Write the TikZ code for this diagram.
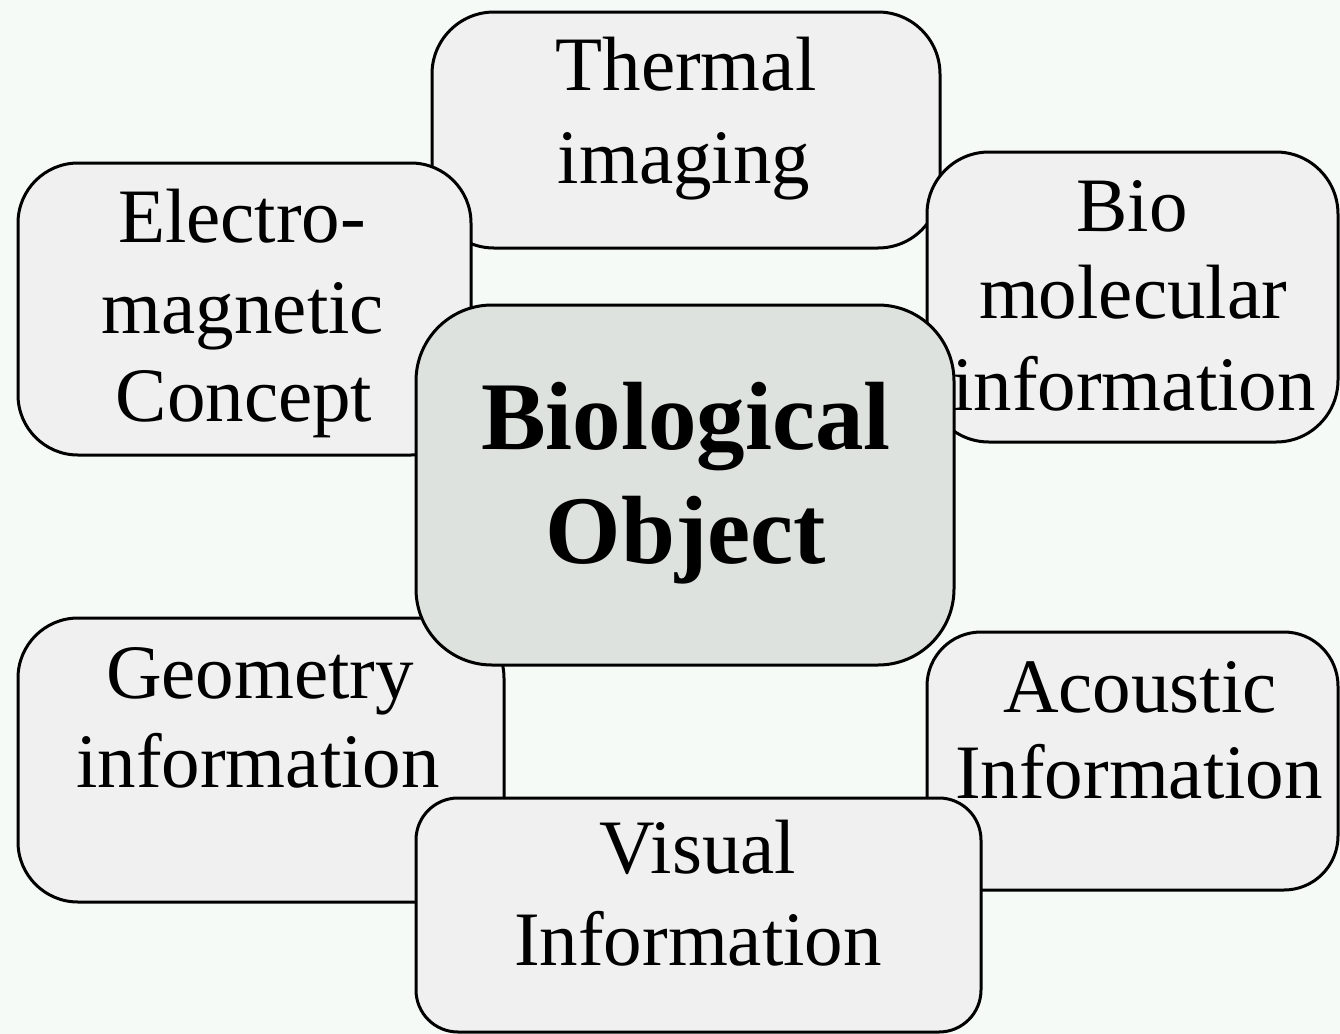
\documentclass[tikz,border=0pt]{standalone}
\usepackage{fontspec}
\setmainfont{Liberation Serif}
\definecolor{bgcol}{HTML}{F5FAF7}
\definecolor{boxfill}{HTML}{F0F0F0}
\definecolor{centerfill}{HTML}{DEE2DF}
\tikzset{
  boxshape/.style={draw=black, line width=1.5pt, fill=boxfill},
  centershape/.style={draw=black, line width=1.5pt, fill=centerfill},
  txt/.style={anchor=base, inner sep=0pt, font=\fontsize{38.5}{46}\selectfont},
  btxt/.style={anchor=base, inner sep=0pt, font=\fontsize{48.5}{57}\selectfont\bfseries}
}
\begin{document}
\begin{tikzpicture}[x=0.5pt,y=-0.5pt]
\useasboundingbox[fill=bgcol] (0,0) rectangle (1340,1034);
% outer boxes (order matters for overlaps)
\draw[boxshape, rounded corners=31pt] (432,12) rectangle (940,248);
\draw[boxshape, rounded corners=30pt] (18,163) rectangle (471,455);
\draw[boxshape, rounded corners=31pt] (927,152) rectangle (1338,442);
\draw[boxshape, rounded corners=30pt] (18,618) rectangle (504,902);
\draw[boxshape, rounded corners=27pt] (927,632) rectangle (1338,890);
% center box
\draw[centershape, rounded corners=38pt] (416,305) rectangle (954,665);
% visual box on top
\draw[boxshape, rounded corners=21pt] (416,798) rectangle (981,1032);
% texts
\node[txt] (therm1) at (686,90) {Thermal};
\node[txt] (therm2) at (684,183) {imaging};
\node[txt] (elec1) at (242,242) {Electro-};
\node[txt] (elec2) at (243,333) {magnetic};
\node[txt] (elec3) at (244,421) {Concept};
\node[txt] (bio1) at (1132,231) {Bio};
\node[txt] (bio2) at (1133,318) {molecular};
\node[txt] (bio3) at (1134,410) {information};
\node[btxt] (cen1) at (686,449) {Biological};
\node[btxt] (cen2) at (686,563) {Object};
\node[txt] (geo1) at (260,698) {Geometry};
\node[txt] (geo2) at (258,787) {information};
\node[txt] (aco1) at (1140,712) {Acoustic};
\node[txt] (aco2) at (1139,798) {Information};
\node[txt] (vis1) at (698,873) {Visual};
\node[txt] (vis2) at (698,965) {Information};
\end{tikzpicture}
\end{document}
